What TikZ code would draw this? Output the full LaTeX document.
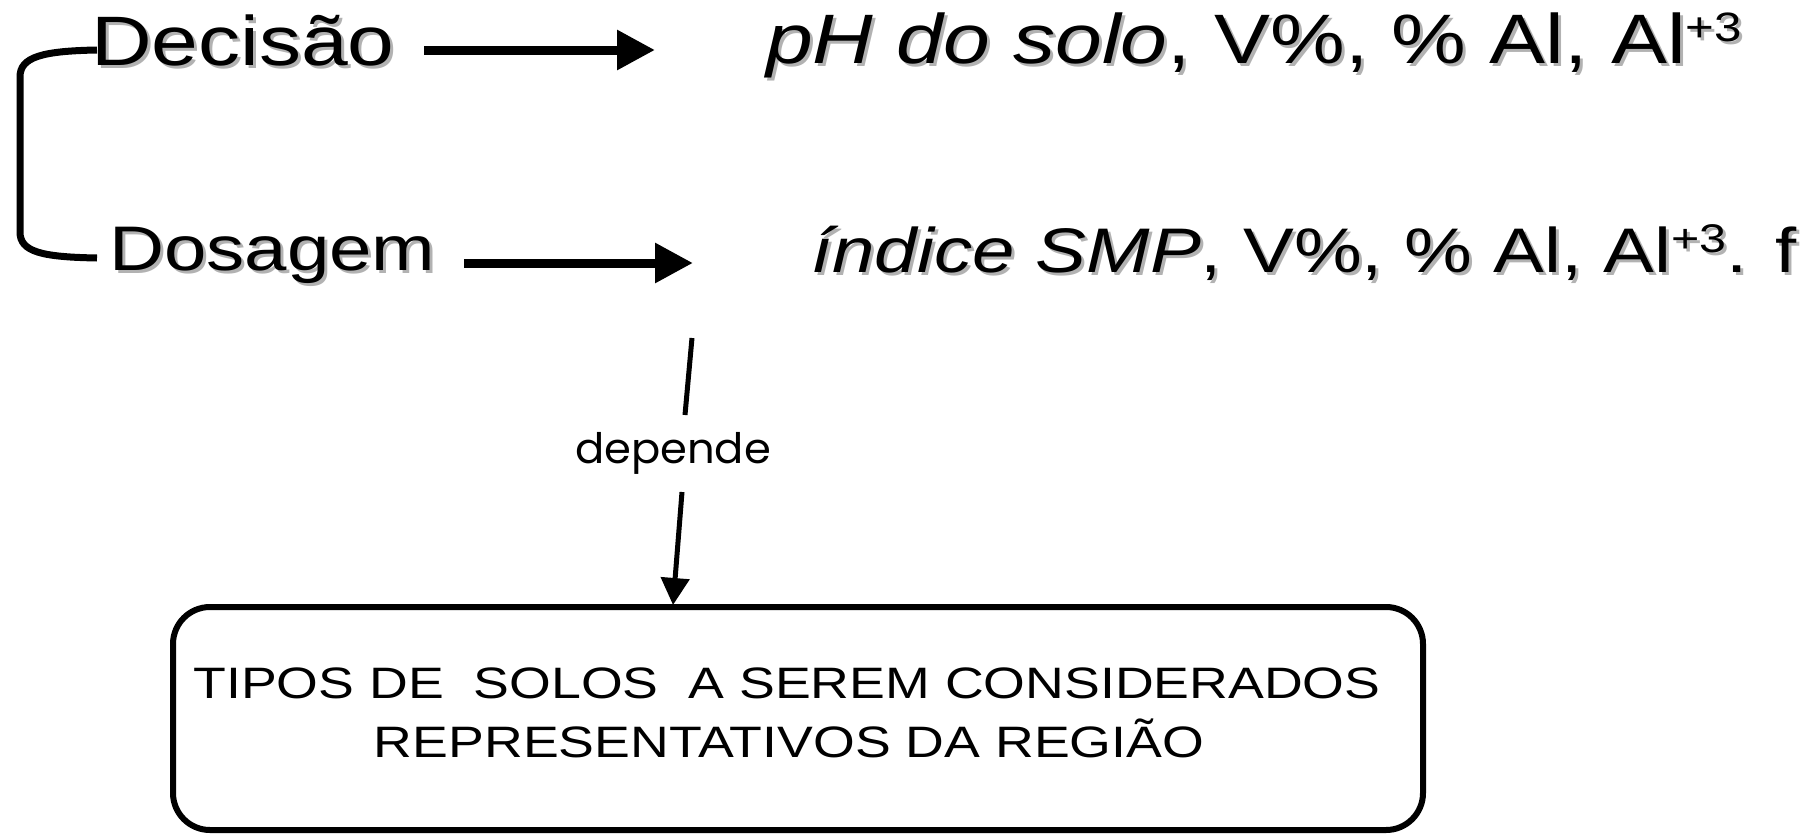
\documentclass[tikz,border=0pt]{standalone}
\usepackage{fontspec}
\setmainfont{Liberation Sans}
\newfontfamily\gothic{Poppins}
\usetikzlibrary{arrows.meta}
\newcommand\rowA[1]{\fontsize{70}{80}\selectfont\scalebox{1.2}[1]{#1}}
\newcommand\rowB[1]{\fontsize{63}{72}\selectfont\scalebox{1.21}[1]{#1}}
\newcommand\supA{\raisebox{22pt}{\fontsize{41}{41}\selectfont +3}}
\newcommand\supB{\raisebox{20pt}{\fontsize{40}{40}\selectfont +3}}
\newcommand\shtext[4]{%
  \node[shd] (#1-s) at (#2+3,#3+3) {#4};
  \node[lbl] (#1) at (#2,#3) {#4};}
\begin{document}
\begin{tikzpicture}[x=1pt,y=-1pt,
  lbl/.style={inner sep=0pt, anchor=base west},
  shd/.style={lbl, text=black!30},
  bigarrow/.style={line width=9pt, -{Triangle[length=38pt,width=38pt]}},
  thinline/.style={line width=5pt},
  thinarrow/.style={line width=5pt, -{Triangle[length=27pt,width=28pt]}},
  boxstyle/.style={draw, line width=6pt, rounded corners=37pt, inner sep=0pt,
    minimum width=1250pt, minimum height=223pt},
  boxtext/.style={inner sep=0pt, anchor=base, font=\fontsize{44}{50}\selectfont}]
\useasboundingbox[fill=white] (0,0) rectangle (1804,835);

% top row
\shtext{dec}{91}{65}{\rowA{Decisão}}
\shtext{ph}{766}{63}{\rowA{\textit{pH do solo}, V\%, \% Al, Al\supA}}
% second row
\shtext{dos}{109}{270}{\rowB{Dosagem}}
\shtext{smp}{811}{272}{\rowB{\textit{índice SMP}, V\%, \% Al, Al\supB. f}}

% bracket
\draw[line width=7pt] (97,50) .. controls (42,51) and (20,57) .. (20,77)
  -- (20,232) .. controls (20,252) and (42,257) .. (97,258);

% horizontal arrows
\coordinate (a1s) at (424,50);
\coordinate (a1e) at (655,50);
\coordinate (a2s) at (464,263);
\coordinate (a2e) at (693,263);
\draw[bigarrow] (a1s) -- (a1e);
\draw[bigarrow] (a2s) -- (a2e);

% box
\node[boxstyle] (box) at (798,718.5) {};
\node[boxtext] (bt1) at (787,698) {\scalebox{1.22}[1]{TIPOS DE \ SOLOS \ A SEREM CONSIDERADOS}};
\node[boxtext] (bt2) at (789,757) {\scalebox{1.22}[1]{REPRESENTATIVOS DA REGIÃO}};

% depende connector
\node[inner sep=0pt, anchor=base] (dep) at (673,463) {\gothic\fontsize{42}{48}\selectfont\scalebox{1.03}[1]{depende}};
\coordinate (d1) at (692,338);
\coordinate (d2) at (685,415);
\coordinate (d3) at (682,492);
\coordinate (d4) at (673,605);
\draw[thinline] (d1) -- (d2);
\draw[thinarrow] (d3) -- (d4);
\end{tikzpicture}
\end{document}
